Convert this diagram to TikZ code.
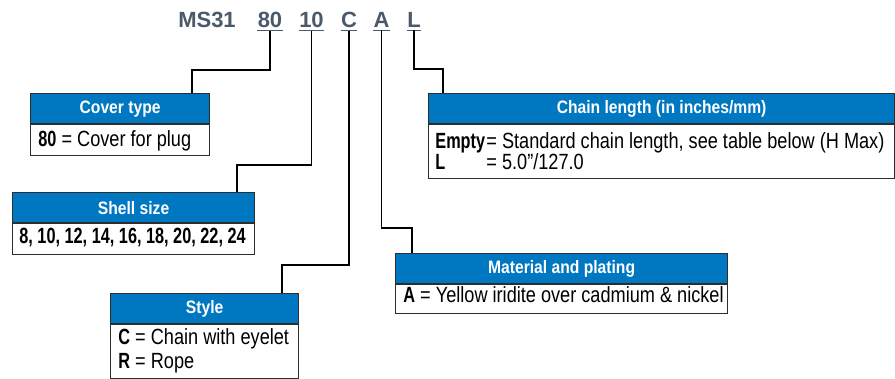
\documentclass[tikz,border=0pt]{standalone}
\usepackage{fontspec}
\setmainfont[FakeStretch=0.825, BoldFeatures={FakeStretch=0.74}]{Liberation Sans}
\newfontfamily\hdrfont[FakeStretch=0.87]{Liberation Sans}
\newfontfamily\titlefont{Liberation Sans}
\definecolor{hdrblue}{RGB}{0,120,193}
\definecolor{codegray}{RGB}{75,90,106}
\definecolor{boxline}{RGB}{45,45,45}

\tikzset{
  code/.style={font=\titlefont\bfseries\fontsize{11}{12}\selectfont, text=codegray, inner xsep=0pt, inner ysep=1.25pt, anchor=base},
  uline/.style={draw=codegray, line width=0.6pt},
  conn/.style={line width=0.6pt},
  hdr/.style={draw=boxline, line width=0.6pt, fill=hdrblue, text=white, font=\hdrfont\bfseries\fontsize{9}{10}\selectfont, minimum height=15pt, inner sep=0pt, anchor=north west},
  bodybox/.style={draw=boxline, line width=0.6pt, fill=white, inner sep=0pt, anchor=north west},
  bodytext/.style={inner sep=0pt, anchor=base west, font=\fontsize{11}{12}\selectfont}
}

\begin{document}
\begin{tikzpicture}[x=0.5pt, y=-0.5pt]
\useasboundingbox (0,0) rectangle (895,379);
% part number
\node[code] (tms) at (207,27.5) {MS31};
\node[code] (t80) at (270,27.5) {80};
\node[code] (t10) at (311.5,27.5) {10};
\node[code] (tC) at (349,27.5) {C};
\node[code] (tA) at (381.5,27.5) {A};
\node[code] (tL) at (414,27.5) {L};
\foreach \t in {t80,t10,tC,tA,tL}
  \draw[uline] (\t.south west) -- (\t.south east);

% boxes
\node[hdr, minimum width=89.5pt] (covhdr) at (30,93) {Cover type};
\node[bodybox, minimum width=89.5pt, minimum height=15.5pt] (covbody) at (covhdr.south west) {};
\node[bodytext] (covtxt) at (38,147) {\textbf{80} = Cover for plug};

\node[hdr, minimum width=121pt] (shellhdr) at (12,192) {Shell size};
\node[bodybox, minimum width=121pt, minimum height=15.5pt] (shellbody) at (shellhdr.south west) {};
\node[bodytext] (shelltxt) at (19,244) {\textbf{8, 10, 12, 14, 16, 18, 20, 22, 24}};

\node[hdr, minimum width=94pt] (stylehdr) at (110,293) {Style};
\node[bodybox, minimum width=94pt, minimum height=27pt] (stylebody) at (stylehdr.south west) {};
\node[bodytext] (styletxtc) at (118,345) {\textbf{C} = Chain with eyelet};
\node[bodytext] (styletxtr) at (118,369) {\textbf{R} = Rope};

\node[hdr, minimum width=166pt] (mathdr) at (395,253) {Material and plating};
\node[bodybox, minimum width=166pt, minimum height=14.5pt] (matbody) at (mathdr.south west) {};
\node[bodytext] (mattxt) at (403,303) {\textbf{A} = Yellow iridite over cadmium \& nickel};

\node[hdr, minimum width=233pt] (chainhdr) at (428,93) {Chain length (in inches/mm)};
\node[bodybox, minimum width=233pt, minimum height=27pt] (chainbody) at (chainhdr.south west) {};
\node[bodytext] (chaintxte) at (435,149) {\makebox[25.5pt][l]{\textbf{Empty}}= Standard chain length, see table below (H Max)};
\node[bodytext] (chaintxtl) at (435,170) {\makebox[25.5pt][l]{\textbf{L}}= 5.0"/127.0};

% leaders
\coordinate (covbend) at (192,70);
\coordinate (shellbend) at (237,165);
\coordinate (stylebend) at (282,265);
\coordinate (matbend) at (412,228);
\coordinate (chainbend) at (443,69);
\draw[conn] (t80.south) |- (covbend) -- (covbend |- covhdr.north);
\draw[conn] (t10.south) |- (shellbend) -- (shellbend |- shellhdr.north);
\draw[conn] (tC.south) |- (stylebend) -- (stylebend |- stylehdr.north);
\draw[conn] (tA.south) |- (matbend) -- (matbend |- mathdr.north);
\draw[conn] (tL.south) |- (chainbend) -- (chainbend |- chainhdr.north);
\end{tikzpicture}
\end{document}
